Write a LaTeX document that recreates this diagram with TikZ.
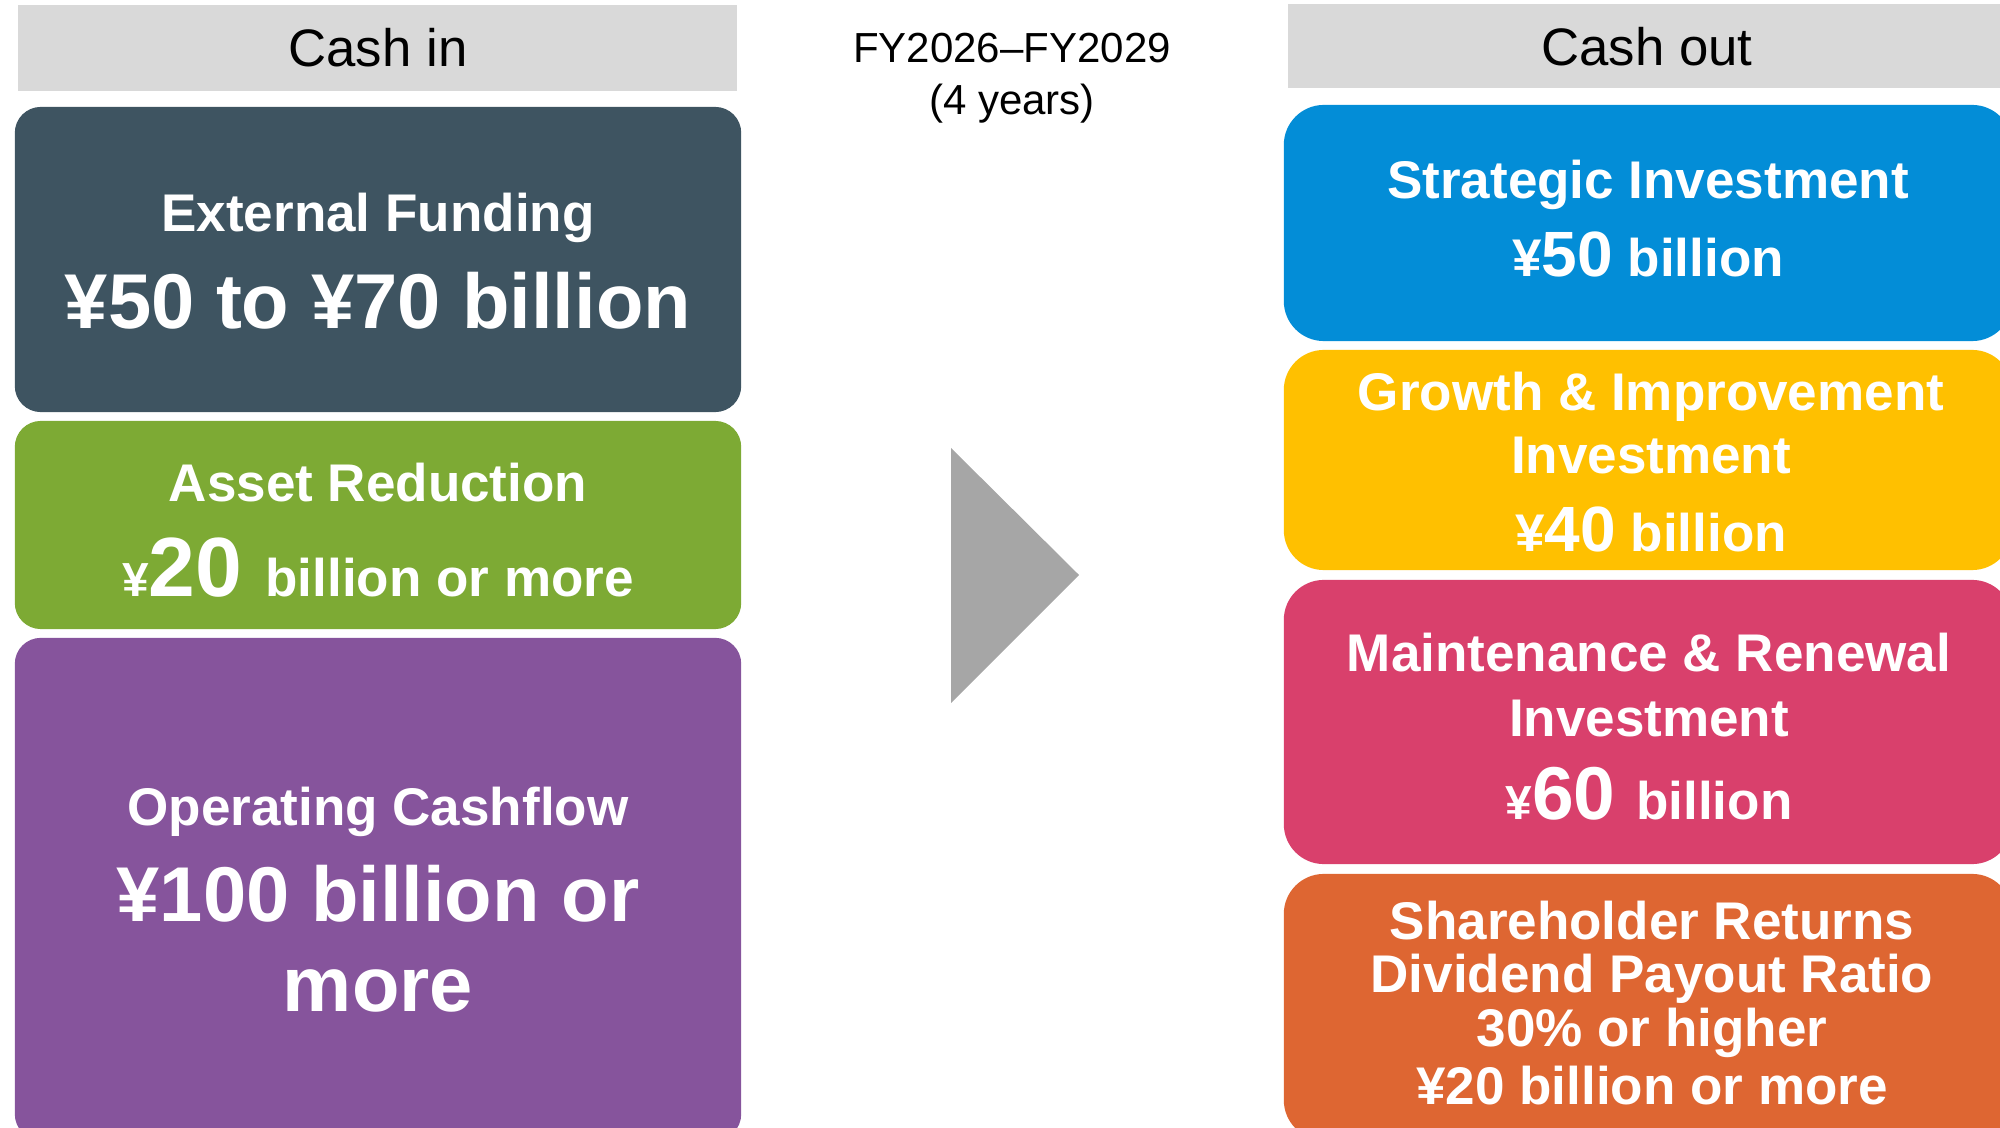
\documentclass[tikz,border=0pt]{standalone}
\usepackage{fontspec}
\setmainfont{Liberation Sans}
\definecolor{hdrgray}{HTML}{D9D9D9}
\definecolor{extslate}{HTML}{3E5461}
\definecolor{assetgreen}{HTML}{7DAA34}
\definecolor{ocfpurple}{HTML}{86549C}
\definecolor{stratblue}{HTML}{038DD7}
\definecolor{growyellow}{HTML}{FFC000}
\definecolor{maintpink}{HTML}{D9406C}
\definecolor{shareorange}{HTML}{DE6632}
\definecolor{arrowgray}{HTML}{A6A6A6}
% font size given in points
\newcommand\sz[1]{\fontsize{#1pt}{#1pt}\selectfont}
\begin{document}
\begin{tikzpicture}[x=0.01cm,y=-0.01cm,
  panel/.style={draw=none, inner sep=0pt, outer sep=0pt},
  head/.style={panel, fill=hdrgray, minimum height=0.86cm},
  lbox/.style={panel, rounded corners=0.26cm, minimum width=7.26cm},
  rbox/.style={panel, rounded corners=0.4cm, minimum width=7.28cm},
  txt/.style={anchor=base, inner sep=0pt, text=white, font=\bfseries\sz{15.08}},
  htxt/.style={anchor=base, inner sep=0pt, text=black, font=\sz{15}}]
\useasboundingbox (0,0) rectangle (2000,1128);
\clip (0,0) rectangle (2000,1128);

% ---- cash in column ----
\node[head, minimum width=7.19cm] (hin) at (377.5,48) {};
\node[htxt] (hintxt) at (378,67) {Cash in};

\node[lbox, fill=extslate, minimum height=3.05cm] (ext) at (378,259.5) {};
\node[txt] (ext1) at (378,232) {External Funding};
\node[txt, font=\bfseries\sz{22.1}] (ext2) at (378,329) {¥50 to ¥70 billion};

\node[lbox, fill=assetgreen, minimum height=2.08cm] (asset) at (378,525) {};
\node[txt] (asset1) at (378,502) {Asset Reduction};
\node[txt] (asset2) at (378,597) {{\sz{13.6}¥}{\sz{23.9}20\ }billion or more};

\node[lbox, fill=ocfpurple, minimum height=5.02cm] (ocf) at (378,889) {};
\node[txt] (ocf1) at (378,825) {Operating Cashflow};
\node[txt, font=\bfseries\sz{22.1}] (ocf2) at (378,921) {¥100 billion or};
\node[txt, font=\bfseries\sz{22.1}] (ocf3) at (378,1011) {more};

% ---- period and flow marker ----
\node[htxt, font=\sz{11.95}] (fy1) at (1012,63) {FY2026–FY2029};
\node[htxt, font=\sz{11.95}] (fy2) at (1012,115) {(4 years)};
\fill[arrowgray] (951,448) -- (1079,575) -- (951,703) -- cycle;

% ---- cash out column ----
\node[head, minimum width=7.22cm, minimum height=0.84cm] (hout) at (1649,46) {};
\node[htxt] (houttxt) at (1647,66) {Cash out};

\node[rbox, fill=stratblue, minimum height=2.36cm] (strat) at (1648,223) {};
\node[txt] (strat1) at (1648,199) {Strategic Investment};
\node[txt] (strat2) at (1648,277) {¥{\sz{18.2}50} billion};

\node[rbox, fill=growyellow, minimum height=2.20cm] (grow) at (1648,460) {};
\node[txt] (grow1) at (1651,411) {Growth \& Improvement};
\node[txt] (grow2) at (1651,474) {Investment};
\node[txt] (grow3) at (1651,552) {¥{\sz{18.2}40} billion};

\node[rbox, fill=maintpink, minimum height=2.84cm] (maint) at (1648,722) {};
\node[txt] (maint1) at (1649,672) {Maintenance \& Renewal};
\node[txt] (maint2) at (1649,736) {Investment};
\node[txt] (maint3) at (1649,820) {{\sz{13.6}¥}{\sz{21.3}60\ }billion};

\node[rbox, fill=shareorange, minimum height=2.66cm] (share) at (1648,1007) {};
\node[txt] (share1) at (1652,939) {Shareholder Returns};
\node[txt] (share2) at (1652,992) {Dividend Payout Ratio};
\node[txt] (share3) at (1652,1046) {30\% or higher};
\node[txt] (share4) at (1652,1104) {¥20 billion or more};
\end{tikzpicture}
\end{document}
